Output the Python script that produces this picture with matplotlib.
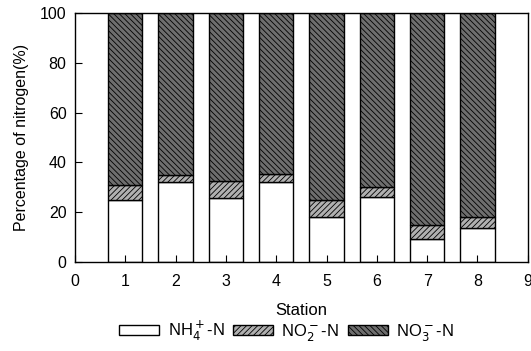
import matplotlib
matplotlib.use("Agg")
import matplotlib.pyplot as plt
import numpy as np

plt.rcParams['font.family'] = ['Liberation Sans', 'DejaVu Sans']
plt.rcParams['hatch.linewidth'] = 0.6

stations = [1, 2, 3, 4, 5, 6, 7, 8]
nh4 = [25, 32, 25.5, 32, 18, 26, 9, 13.5]
no2 = [6, 3, 7, 3.5, 7, 4, 6, 4.5]
no3 = [100 - a - b for a, b in zip(nh4, no2)]

fig = plt.figure(figsize=(5.31, 3.51), dpi=100)
ax = fig.add_axes([0.141, 0.254, 0.853, 0.709])

w = 0.68
x = np.array(stations)
b1 = ax.bar(x, nh4, w, color='white', edgecolor='black', linewidth=1.0, label='NH$_4^+$-N')
b2 = ax.bar(x, no2, w, bottom=nh4, color='#b0b0b0', edgecolor='black', hatch='//////',
            linewidth=1.0, label='NO$_2^-$-N')
b3 = ax.bar(x, no3, w, bottom=np.array(nh4) + np.array(no2), color='#6e6e6e',
            edgecolor='black', hatch='\\\\\\\\\\\\', linewidth=1.0, label='NO$_3^-$-N')

ax.set_xlim(0, 9)
ax.set_ylim(0, 100)
ax.set_xticks(range(10))
ax.set_yticks(range(0, 101, 20))
ax.tick_params(direction='in', length=5, labelsize=11.5)
ax.tick_params(axis='x', pad=9)
ax.tick_params(axis='y', pad=6)
for s in ax.spines.values():
    s.set_linewidth(1.0)

ax.set_xlabel('Station', fontsize=12, labelpad=10)
ax.set_ylabel('Percentage of nitrogen(%)', fontsize=11.5, labelpad=8)

fig.legend(handles=[b1, b2, b3], loc='lower center', bbox_to_anchor=(0.54, -0.02),
           ncol=3, frameon=False, fontsize=12, handlelength=2.4, handleheight=0.55,
           columnspacing=0.5, handletextpad=0.5)

fig.savefig('out.png', dpi=100)
